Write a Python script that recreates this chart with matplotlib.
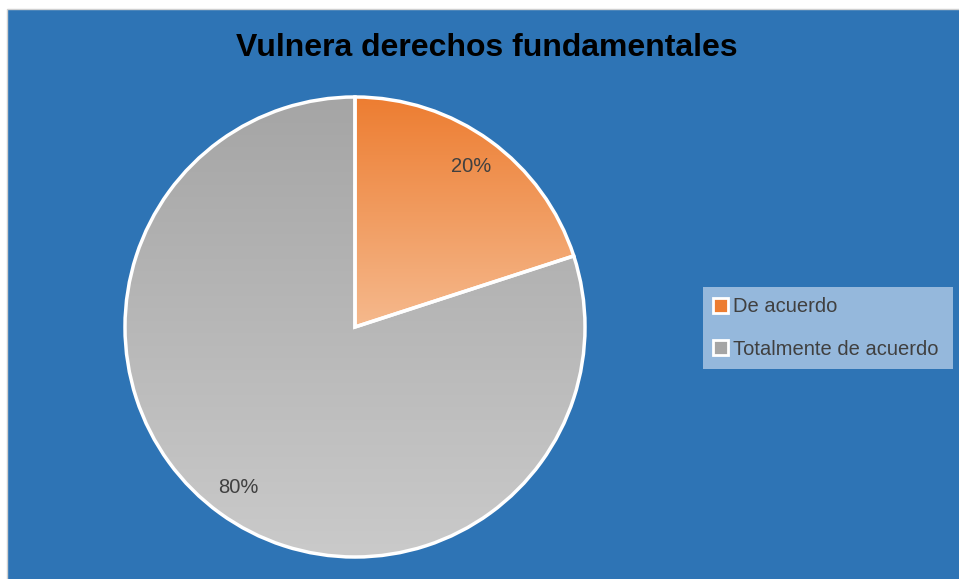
import numpy as np
import matplotlib.pyplot as plt
from matplotlib.patches import Rectangle
from matplotlib.colors import to_rgb

titulo = "Vulnera derechos fundamentales"
categorias = ["De acuerdo", "Totalmente de acuerdo"]
valores = [20, 80]
colores_top = ["#ED7D31", "#A5A5A5"]
colores_bottom = ["#F5B98D", "#CACACA"]

plt.rcParams['font.family'] = ['Liberation Sans', 'DejaVu Sans']

fig = plt.figure(figsize=(9.59, 5.79), dpi=100, facecolor="white")
ax = fig.add_axes([0, 0, 1, 1])
ax.set_xlim(0, 959)
ax.set_ylim(0, 579)
ax.set_aspect("equal")
ax.axis("off")

# fondo azul del grafico
ax.add_patch(Rectangle((7, -5), 960, 575, facecolor="#2E74B5", edgecolor="#D0D0D0", linewidth=1, zorder=0))

centro = (355, 252)
radio = 230
wedges, textos, autotextos = ax.pie(
    valores, colors=colores_top, startangle=90, counterclock=False,
    center=centro, radius=radio, autopct="%1.0f%%", pctdistance=0.86,
    wedgeprops=dict(edgecolor="white", linewidth=2.5),
    textprops=dict(color="#404040", fontsize=14.5))
ax.set_xlim(0, 959)
ax.set_ylim(0, 579)

leg = ax.legend(wedges, categorias, loc="center left",
                bbox_to_anchor=(703 / 959, 1 - 371 / 579, 250 / 959, 86 / 579),
                mode="expand", frameon=True, fancybox=False, fontsize=14.5,
                handlelength=0.75, handleheight=0.75, handletextpad=0.25,
                labelspacing=1.15, borderpad=0.5, borderaxespad=0)
leg.get_frame().set_facecolor("#95B8DC")
leg.get_frame().set_edgecolor("none")
leg.get_frame().set_alpha(1)
for t in leg.get_texts():
    t.set_color("#404040")
for h in leg.legend_handles:
    h.set_linewidth(2)

# relleno degradado de cada porcion
for w, ctop, cbot in zip(wedges, colores_top, colores_bottom):
    bb = w.get_path().get_extents(w.get_transform() - ax.transData)
    n = 256
    a = np.array(to_rgb(ctop))
    b = np.array(to_rgb(cbot))
    t = np.linspace(0, 1, n)[:, None]
    img = (a * (1 - t) + b * t)[:, None, :]
    im = ax.imshow(img, extent=[bb.x0, bb.x1, bb.y0, bb.y1], origin="upper",
                   aspect="auto", zorder=1, interpolation="bilinear")
    im.set_clip_path(w)
    w.set_facecolor("none")
    w.set_zorder(2)
for t in autotextos:
    t.set_zorder(3)
ax.set_xlim(0, 959)
ax.set_ylim(0, 579)

ax.text(487, 579 - 48, titulo, ha="center", va="center", fontsize=23,
        fontweight="bold", color="black")

fig.savefig("out.png", dpi=100, facecolor="white")
